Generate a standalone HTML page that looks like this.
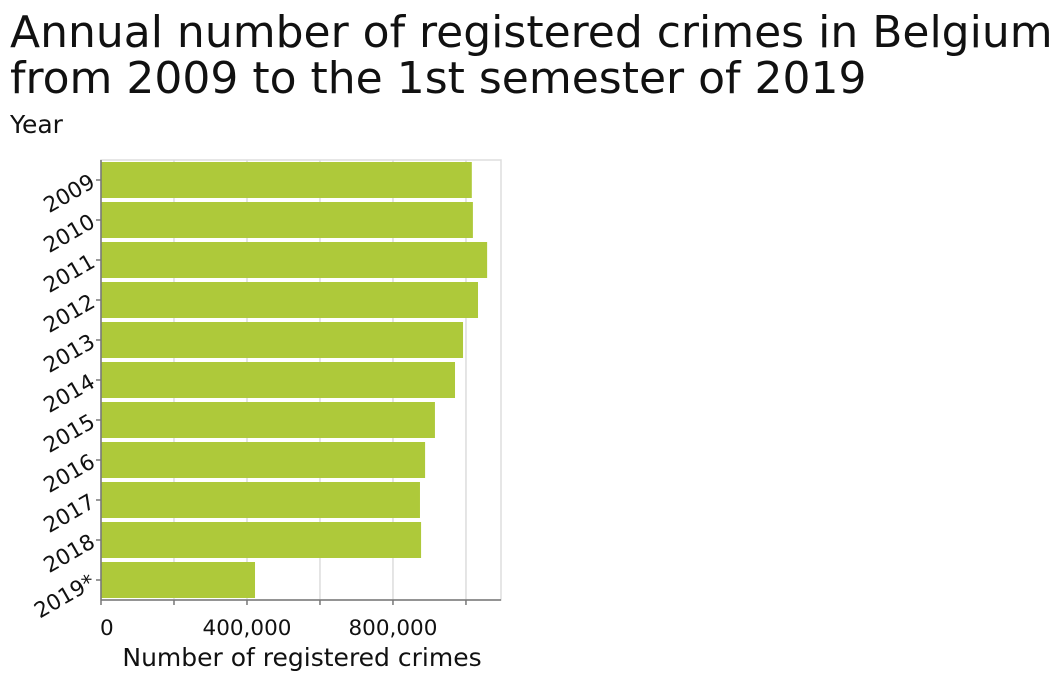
<!DOCTYPE html>
<html><head><meta charset="utf-8"><style>
body{margin:0;background:#fff;font-family:"Liberation Sans","DejaVu Sans",sans-serif;}
svg text{font-family:"DejaVu Sans","Liberation Sans",sans-serif;fill:#111;}
</style></head><body>
<svg id="c" width="1064" height="682" xmlns="http://www.w3.org/2000/svg">
<text x="10" y="47" font-size="44">Annual number of registered crimes in Belgium</text>
<text x="10" y="93" font-size="44">from 2009 to the 1st semester of 2019</text>
<text x="10" y="133" font-size="25">Year</text>
<text x="302" y="666" font-size="25" text-anchor="middle">Number of registered crimes</text>
</svg>
<script>
const categories=["2009","2010","2011","2012","2013","2014","2015","2016","2017","2018","2019*"];
const values=[1016000,1019000,1058000,1033000,992000,970000,915000,888000,874000,877000,422000];
const tickValues=[0,200000,400000,600000,800000,1000000];
const tickLabels=["0","","400,000","","800,000",""];
const svg=document.getElementById('c');
const NS="http://www.w3.org/2000/svg";
const X0=101,X1=501,Y0=160,Y1=600,maxV=1096000;
const x=v=>X0+v/maxV*(X1-X0);
const band=(Y1-Y0)/categories.length;
const y=i=>Y0+i*band;
function mk(t,a){const e=document.createElementNS(NS,t);for(const k in a)e.setAttribute(k,a[k]);svg.appendChild(e);return e;}
const frame=mk('rect',{x:X0,y:Y0,width:X1-X0,height:Y1-Y0,fill:'none',stroke:'#ddd','stroke-width':1.5});


tickValues.forEach((v,i)=>{
 const g=mk('line',{x1:x(v),x2:x(v),y1:Y0,y2:Y1,stroke:'#ddd','stroke-width':1.5});
 
 
 const t=mk('line',{x1:x(v),x2:x(v),y1:Y1,y2:Y1+5,stroke:'#777','stroke-width':1.5});
 
 
 if(tickLabels[i]){const l=mk('text',{x:x(v),y:Y1+35,'font-size':21.5,'text-anchor':i===0?'start':'middle'});l.textContent=tickLabels[i];
 if(i===0)l.setAttribute('x',x(v)-1);
 
 }
});
categories.forEach((c,i)=>{
 const b=mk('rect',{x:X0,y:y(i)+2,width:x(values[i])-X0,height:band-4,fill:'#aec93a'});
 
 
 const cy=y(i)+band/2;
 const t=mk('line',{x1:X0-5,x2:X0,y1:cy,y2:cy,stroke:'#777','stroke-width':1.5});
 
 
 const l=mk('text',{x:X0-8,y:cy+7,'font-size':21.5,'text-anchor':'end',transform:`rotate(-30 ${X0-8} ${cy})`});
 l.textContent=c;
 
 
});
const ax=mk('line',{x1:X0,x2:X1,y1:Y1,y2:Y1,stroke:'#777','stroke-width':1.5});


const ay=mk('line',{x1:X0,x2:X0,y1:Y0,y2:Y1,stroke:'#777','stroke-width':1.5});


</script>
</body></html>
